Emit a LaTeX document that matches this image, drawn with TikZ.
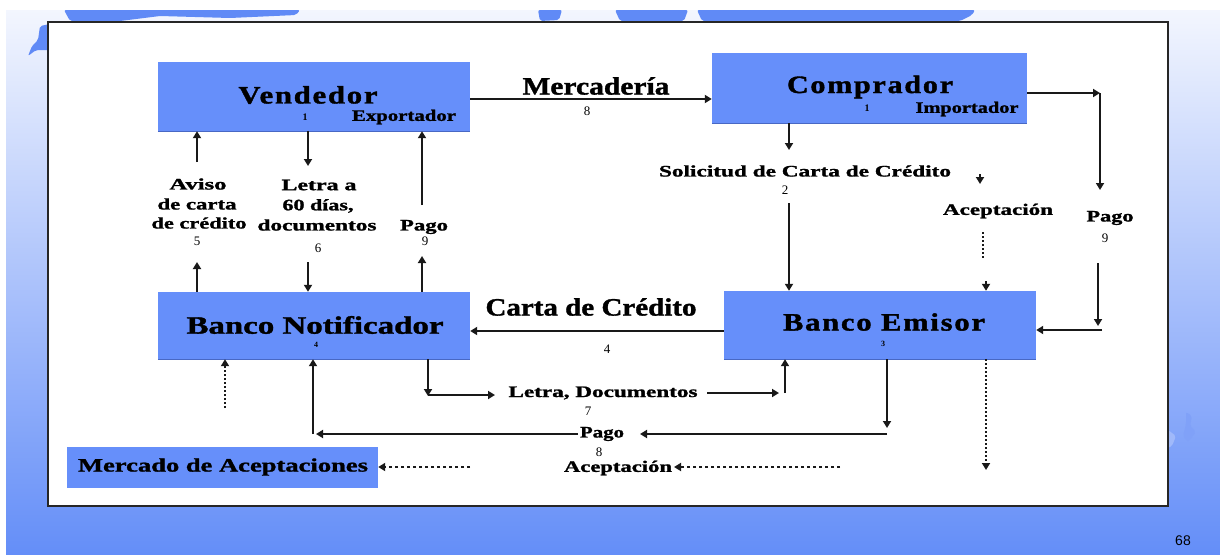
\documentclass[tikz,border=0pt]{standalone}
\usepackage{fontspec}
\setmainfont{Liberation Serif}
\newfontfamily\pagefont{Liberation Sans}
\usepackage{graphicx}
\usetikzlibrary{arrows.meta}

\definecolor{boxblue}{RGB}{102,143,250}
\definecolor{boxedge}{RGB}{72,104,196}
\definecolor{bgtop}{RGB}{243,246,254}
\definecolor{bgbot}{RGB}{100,142,248}
\definecolor{mapblue}{RGB}{96,138,246}

% heavy bold text stretched horizontally to a given width
\newcommand\wtxt[3]{\resizebox{#1pt}{\height}{\fontsize{#2pt}{#2pt}\selectfont\bfseries\addfontfeatures{FakeBold=1.2}#3}}
% same, letter-spaced (box titles)
\newcommand\ltxt[3]{\resizebox{#1pt}{\height}{\fontsize{#2pt}{#2pt}\selectfont\bfseries\addfontfeatures{FakeBold=1.4,LetterSpace=6}#3}}

\tikzset{
  party/.style={fill=boxblue, draw=none, inner sep=0pt},
  lbl/.style={inner sep=0pt, anchor=center},
  num/.style={inner sep=0pt, anchor=center, font=\fontsize{13pt}{13pt}\selectfont},
  tiny/.style={inner sep=0pt, anchor=center, font=\fontsize{8pt}{8pt}\selectfont\bfseries},
  arr/.style={-{Triangle[length=7pt,width=8pt]}, line width=1.8pt, black!90},
  dotarr/.style={arr, dash pattern=on 1.6pt off 2.4pt},
  dasharr/.style={arr, dash pattern=on 3pt off 3pt},
}

\begin{document}
\begin{tikzpicture}[x=1pt, y=-1pt]
\useasboundingbox (0,0) rectangle (1220,554);

% slide background
\shade[top color=bgtop, bottom color=bgbot] (6,10) rectangle (1220,554);

% faint world-map fragments behind the frame
\fill[mapblue, rounded corners=2pt] (64,10) -- (300,10) -- (296,15) -- (230,18) -- (160,16) -- (120,21) -- (70,21) -- cycle;
\fill[mapblue, rounded corners=2pt] (538,10) -- (562,10) -- (559,20) -- (540,21) -- cycle;
\fill[mapblue, rounded corners=2pt] (615,10) -- (688,10) -- (684,21) -- (620,21) -- cycle;
\fill[mapblue, rounded corners=2pt] (697,10) -- (975,10) -- (972,15) -- (960,21) -- (702,21) -- cycle;
\fill[mapblue, rounded corners=2pt] (40,26) -- (50,24) -- (50,50) -- (36,50) -- (28,56) -- (32,46) -- (38,40) -- cycle;
\fill[mapblue!80!white, rounded corners=2pt] (1186,412) -- (1192,416) -- (1190,426) -- (1196,432) -- (1188,442) -- (1183,436) -- (1186,424) -- cycle;
\fill[mapblue!60!white, rounded corners=2pt] (1168,430) -- (1176,436) -- (1172,446) -- (1168,448) -- cycle;

% white frame
\draw[line width=1.8pt, black!85, fill=white] (48,22) rectangle (1168,506);

% page number
\node[inner sep=0pt, font=\pagefont\fontsize{14pt}{14pt}\selectfont] (pageno) at (1183,541) {68};

% boxes
\node[party, minimum width=312pt, minimum height=69pt] (vend) at (314,96.5) {};
\node[party, minimum width=315pt, minimum height=70pt] (comp) at (869.5,88) {};
\node[party, minimum width=312pt, minimum height=67pt] (noti) at (314,325.5) {};
\node[party, minimum width=312pt, minimum height=68pt] (emis) at (880,325) {};
\node[party, minimum width=311pt, minimum height=41pt] (merc) at (222.5,467.5) {};
\foreach \b in {vend,comp,noti,emis}
  \draw[boxedge, line width=1pt] (\b.south west) -- (\b.south east);

% box texts
\node[lbl] (tVend) at (308,95) {\ltxt{139}{25}{Vendedor}};
\node[num, font=\fontsize{10pt}{10pt}\selectfont\bfseries] (nVend) at (305,117) {1};
\node[lbl] (tExp) at (404,117) {\wtxt{104}{16}{Exportador}};

\node[lbl] (tComp) at (870,87) {\ltxt{166}{25}{Comprador}};
\node[num, font=\fontsize{10pt}{10pt}\selectfont\bfseries] (nComp) at (867,108) {1};
\node[lbl] (tImp) at (967,109) {\wtxt{103}{16}{Importador}};

\node[lbl] (tNoti) at (315,325) {\wtxt{257}{25}{Banco Notificador}};
\node[tiny] (nNoti) at (316,345) {4};

\node[lbl] (tEmis) at (884,322) {\ltxt{202}{25}{Banco Emisor}};
\node[tiny] (nEmis) at (883,344) {3};

\node[lbl] (tMerc) at (223,467) {\wtxt{290}{19}{Mercado de Aceptaciones}};

% flow labels
\node[lbl] (lMer) at (596,86) {\wtxt{147}{25}{Mercadería}};
\node[num] (nMer) at (587,111) {8};

\node[lbl] (lCarta) at (591,307) {\wtxt{211}{25}{Carta de Crédito}};
\node[num] (nCarta) at (607,349) {4};

\node[lbl] (lAv1) at (198,184) {\wtxt{57}{16}{Aviso}};
\node[lbl] (lAv2) at (197,204) {\wtxt{79}{16}{de carta}};
\node[lbl] (lAv3) at (199,223) {\wtxt{95}{16}{de crédito}};
\node[num] (nAv) at (197,241) {5};

\node[lbl] (lLe1) at (319,185) {\wtxt{75}{16}{Letra a}};
\node[lbl] (lLe2) at (318,206) {\wtxt{71}{16}{60 días,}};
\node[lbl] (lLe3) at (317,225) {\wtxt{119}{16}{documentos}};
\node[num] (nLe) at (318,248) {6};

\node[lbl] (lPagoA) at (424,227) {\wtxt{48}{16}{Pago}};
\node[num] (nPagoA) at (425,241) {9};

\node[lbl] (lSol) at (805,171) {\wtxt{292}{16}{Solicitud de Carta de Crédito}};
\node[num] (nSol) at (785,190) {2};

\node[lbl] (lAcepA) at (998,211) {\wtxt{110}{16}{Aceptación}};

\node[lbl] (lPagoB) at (1110,218) {\wtxt{47}{16}{Pago}};
\node[num] (nPagoB) at (1105,238) {9};

\node[lbl] (lLetra) at (603,393) {\wtxt{189}{16}{Letra, Documentos}};
\node[num] (nLetra) at (588,411) {7};

\node[lbl] (lPagoC) at (602,434) {\wtxt{44}{16}{Pago}};
\node[num] (nPagoC) at (599,452) {8};

\node[lbl] (lAcepB) at (618,468) {\wtxt{108}{16}{Aceptación}};

% reference levels and bends
\coordinate (yMer) at (0,99);
\coordinate (yP9) at (0,93);
\coordinate (yCarta) at (0,331);
\coordinate (yEm) at (0,330);
\coordinate (xA) at (197,0);
\coordinate (xB) at (308,0);
\coordinate (xC) at (422,0);
\coordinate (xSol) at (789,0);
\coordinate (xAcep) at (986,0);
\coordinate (xLet) at (428,0);
\coordinate (xLetE) at (785,0);
\coordinate (xPagE) at (887,0);
\coordinate (xPagN) at (313,0);
\coordinate (xDotN) at (225,0);
\coordinate (yMkt) at (0,467);

% Mercaderia
\draw[arr] (vend.east |- yMer) -- (comp.west |- yMer);

% Pago 9 (Comprador -> Banco Emisor)
\coordinate (p9corner) at (1100,93);
\coordinate (p9end) at (1100,190);
\coordinate (p9start) at (1098,263);
\coordinate (p9low) at (1098,326);
\coordinate (p9turn) at (1102,330);
\draw[arr] (comp.east |- yP9) -- (p9corner);
\draw[arr] (p9corner) -- (p9end);
\draw[arr] (p9start) -- (p9low);
\draw[arr] (p9turn) -- (emis.east |- yEm);

% Solicitud de Carta de Credito
\coordinate (solA) at (789,150);
\coordinate (solB) at (789,203);
\draw[arr] (comp.south -| xSol) -- (solA);
\draw[arr] (solB) -- (emis.north -| xSol);

% Aceptacion (upper)
\coordinate (acA1) at (980,174);
\coordinate (acA2) at (980,184);
\coordinate (acB1) at (983,232);
\coordinate (acB2) at (983,258);
\coordinate (acC1) at (986,281);
\draw[arr] (acA1) -- (acA2);
\draw[line width=1.6pt, black!90, dash pattern=on 1.6pt off 2.4pt] (acB1) -- (acB2);
\draw[arr] (acC1) -- (emis.north -| xAcep);

% Carta de Credito
\draw[arr] (emis.west |- yCarta) -- (noti.east |- yCarta);

% Vendedor <-> Banco Notificador
\coordinate (avTop) at (197,162);
\coordinate (avBot) at (197,262);
\draw[arr] (avTop) -- (vend.south -| xA);
\draw[arr] (noti.north -| xA) -- (avBot);
\coordinate (leTop) at (308,166);
\coordinate (leBot) at (308,262);
\draw[arr] (vend.south -| xB) -- (leTop);
\draw[arr] (leBot) -- (noti.north -| xB);
\coordinate (pgTop) at (422,205);
\coordinate (pgBot) at (422,256);
\draw[arr] (pgTop) -- (vend.south -| xC);
\draw[arr] (noti.north -| xC) -- (pgBot);

% Letra, Documentos 7
\coordinate (l7a) at (428,396);
\coordinate (l7b) at (428,395);
\coordinate (l7c) at (495,395);
\coordinate (l7d) at (707,393);
\coordinate (l7e) at (779,393);
\coordinate (l7f) at (785,393);
\draw[arr] (noti.south -| xLet) -- (l7a);
\draw[arr] (l7b) -- (l7c);
\draw[arr] (l7d) -- (l7e);
\draw[arr] (l7f) -- (emis.south -| xLetE);

% Pago 8
\coordinate (p8a) at (887,428);
\coordinate (p8b) at (887,434);
\coordinate (p8c) at (640,434);
\coordinate (p8d) at (578,434);
\coordinate (p8e) at (316,434);
\coordinate (p8f) at (313,434);
\draw[arr] (emis.south -| xPagE) -- (p8a);
\draw[arr] (p8b) -- (p8c);
\draw[arr] (p8d) -- (p8e);
\draw[arr] (p8f) -- (noti.south -| xPagN);

% Aceptacion (dotted, to the market)
\coordinate (dEm) at (986,470);
\coordinate (dR1) at (840,467);
\coordinate (dR2) at (674,467);
\coordinate (dL1) at (470,467);
\coordinate (dN) at (225,408);
\draw[dotarr] (emis.south -| xAcep) -- (dEm);
\draw[dasharr] (dR1) -- (dR2);
\draw[dasharr] (dL1) -- (merc.east |- yMkt);
\draw[dotarr] (dN) -- (noti.south -| xDotN);

\end{tikzpicture}
\end{document}
